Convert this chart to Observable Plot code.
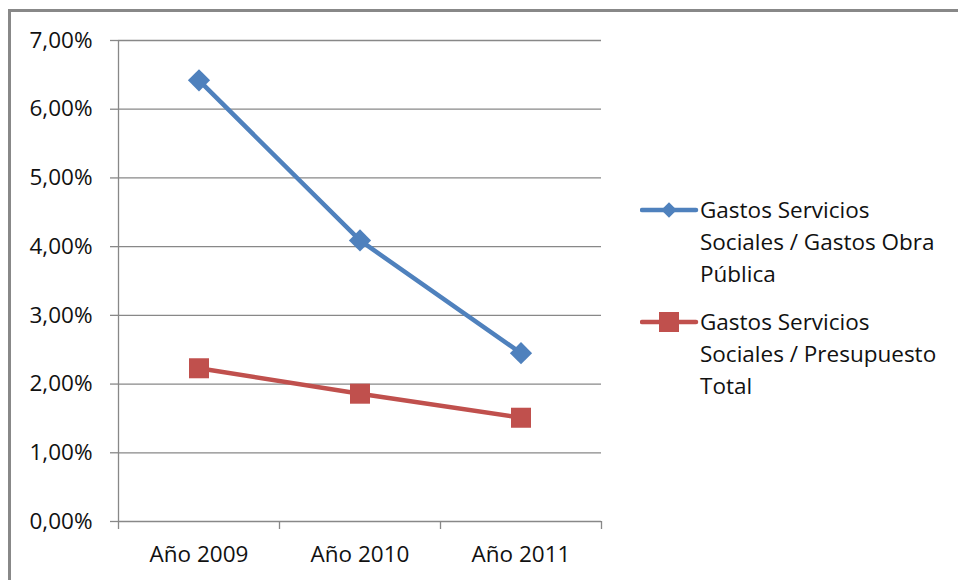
<!DOCTYPE html>
<html>
<head>
<meta charset="utf-8">
<script src="https://cdn.jsdelivr.net/npm/d3@7"></script>
<script src="https://cdn.jsdelivr.net/npm/@observablehq/plot@0.6"></script>
<style>
  html, body { margin: 0; padding: 0; background: #fff; }
  #wrap { position: relative; width: 958px; height: 580px; overflow: hidden; font-family: "Open Sans", sans-serif; }
  #frame { position: absolute; left: 8px; top: 9px; width: 1000px; height: 1000px; border-top: 3px solid #888; border-left: 3px solid #888; box-sizing: border-box; }
  #chart { position: absolute; left: 0; top: 0; }
  #legend { position: absolute; left: 640px; top: 194px; font-size: 22.5px; color: #111; line-height: 32px; }
  .item { display: flex; align-items: flex-start; margin-bottom: 16px; }
  .item svg { flex: none; margin-top: 0px; }
</style>
</head>
<body>
<div id="wrap">
  <div id="frame"></div>
  <div id="chart"></div>
  <div id="legend"></div>
</div>
<script>
const years = ["Año 2009", "Año 2010", "Año 2011"];
const obraPublica = [0.0642, 0.0409, 0.0245];
const presupuesto = [0.0223, 0.0186, 0.0151];
const yTicks = [0, 0.01, 0.02, 0.03, 0.04, 0.05, 0.06, 0.07];
const seriesNames = ["Gastos Servicios Sociales / Gastos Obra Pública", "Gastos Servicios Sociales / Presupuesto Total"];
const seriesLines = [["Gastos Servicios", "Sociales / Gastos Obra", "Pública"], ["Gastos Servicios", "Sociales / Presupuesto", "Total"]];
const colors = ["#4F81BD", "#C0504D"];

const fmt = d => (d * 100).toFixed(2).replace(".", ",") + "%";
const blue = years.map((y, i) => ({pos: i + 0.5, v: obraPublica[i]}));
const red = years.map((y, i) => ({pos: i + 0.5, v: presupuesto[i]}));
const bounds = d3.range(years.length + 1);
const centers = years.map((y, i) => i + 0.5);

const chart = Plot.plot({
  width: 958,
  height: 580,
  marginLeft: 118,
  marginRight: 357,
  marginTop: 40,
  marginBottom: 59,
  style: {fontFamily: "Open Sans, sans-serif", fontSize: "22.5px", color: "#111", background: "transparent", overflow: "visible"},
  x: {type: "linear", domain: [0, years.length], label: null},
  y: {domain: [0, 0.07], label: null},
  marks: [
    Plot.gridY(yTicks, {stroke: "#888", strokeOpacity: 1, strokeWidth: 1.3}),
    Plot.axisY({ticks: yTicks, tickSize: 8, tickPadding: 18, tickFormat: fmt, stroke: "#888", strokeWidth: 1.3, fill: "#111", label: null}),
    Plot.ruleX([0], {stroke: "#888", strokeWidth: 1.3}),
    Plot.axisX({ticks: bounds, tickSize: 8, tickFormat: () => "", stroke: "#888", strokeWidth: 1.3, label: null}),
    Plot.axisX({ticks: centers, tickSize: 0, tickPadding: 25, tickFormat: d => years[Math.round(d - 0.5)], fill: "#111", label: null}),
    Plot.line(blue, {x: "pos", y: "v", stroke: colors[0], strokeWidth: 4.5}),
    Plot.dot(blue, {x: "pos", y: "v", symbol: "diamond2", r: 10, fill: colors[0], stroke: "none"}),
    Plot.line(red, {x: "pos", y: "v", stroke: colors[1], strokeWidth: 4.5}),
    Plot.dot(red, {x: "pos", y: "v", symbol: "square", r: 11.3, fill: colors[1], stroke: "none"})
  ]
});
document.getElementById("chart").appendChild(chart);

// Legend
const legend = document.getElementById("legend");
seriesNames.forEach((name, k) => {
  const item = document.createElement("div");
  item.className = "item";
  item.title = name;
  const sw = d3.create("svg").attr("width", 60).attr("height", 32);
  sw.append("line").attr("x1", 2).attr("x2", 56).attr("y1", 16).attr("y2", 16)
    .attr("stroke", colors[k]).attr("stroke-width", 4.5).attr("stroke-linecap", "round");
  if (k === 0) {
    sw.append("path").attr("d", d3.symbol(d3.symbolDiamond2, Math.PI * 7 * 7)()).attr("transform", "translate(29,16)").attr("fill", colors[k]);
  } else {
    sw.append("rect").attr("x", 19).attr("y", 6).attr("width", 20).attr("height", 20).attr("fill", colors[k]);
  }
  item.appendChild(sw.node());
  const txt = document.createElement("div");
  txt.innerHTML = seriesLines[k].join("<br>");
  item.appendChild(txt);
  legend.appendChild(item);
});
</script>
</body>
</html>
